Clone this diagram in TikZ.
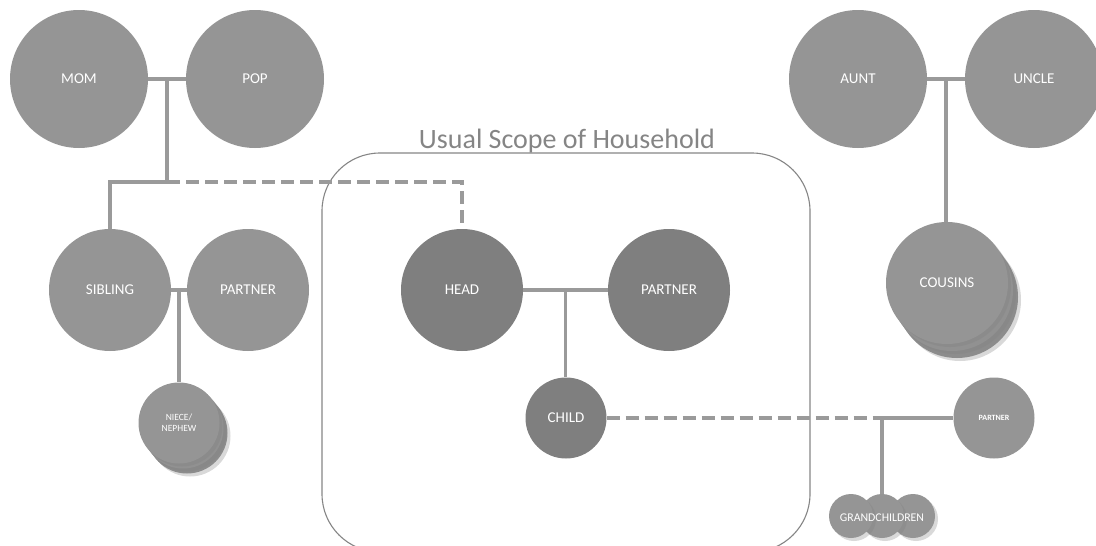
\documentclass[tikz,border=0pt]{standalone}
\usepackage{fontspec}
\setmainfont{Carlito}
\usetikzlibrary{calc,shadows}
\definecolor{relgray}{HTML}{959595}
\definecolor{homegray}{HTML}{7F7F7F}
\definecolor{linkgray}{HTML}{9A9A9A}
\definecolor{framegray}{HTML}{858585}
\begin{document}
\begin{tikzpicture}[x=1pt, y=-1pt,
    person/.style={circle, fill=relgray, text=white, inner sep=0pt,
      font=\fontsize{15}{17}\selectfont},
    large/.style={person, minimum size=138pt},
    medium/.style={person, minimum size=122pt},
    little/.style={person, minimum size=81pt},
    wee/.style={person, minimum size=44pt},
    household/.style={fill=homegray},
    stack/.style={drop shadow={shadow xshift=3pt, shadow yshift=-3pt, opacity=.3}},
    link/.style={draw=linkgray, line width=3.5pt},
    dashlink/.style={link, dash pattern=on 13pt off 6pt}]
  \useasboundingbox (0,0) rectangle (1096,546);
  % household frame
  \draw[framegray, line width=1.1pt, rounded corners=58pt] (322,153) rectangle (810,552);
  \node[text=framegray, anchor=base, font=\fontsize{28}{32}\selectfont] (scope) at (567,148) {Usual Scope of Household};
  % parents
  \node[large] (mom) at (79,79) {MOM};
  \node[large] (pop) at (255,79) {POP};
  % siblings
  \node[medium] (sibling) at (110,290) {SIBLING};
  \node[medium] (sibpartner) at (248,290) {PARTNER};
  \node[little, stack, fill=relgray!94!black] (niece3) at (187,433) {};
  \node[little, stack, fill=relgray!97!black] (niece2) at (183,428) {};
  \node[little, stack, font=\fontsize{9.5}{11}\selectfont, align=center] (niece) at (179,423) {NIECE/\\NEPHEW};
  % household
  \node[medium, household] (head) at (462,290) {HEAD};
  \node[medium, household] (headpartner) at (669,290) {PARTNER};
  \node[little, household] (child) at (566,418) {CHILD};
  \node[little, font=\bfseries\fontsize{8}{9}\selectfont] (childpartner) at (994,418) {PARTNER};
  \node[wee, stack] (gkright) at (913,516) {};
  \node[wee, stack] (grandkids) at (882,516) {};
  \node[wee, stack] (gkleft) at (851,516) {};
  \node[text=white, font=\fontsize{11.8}{13}\selectfont] (gklabel) at (882,518) {GRANDCHILDREN};
  % aunt and uncle
  \node[large] (aunt) at (858,79) {AUNT};
  \node[large] (uncle) at (1034,79) {UNCLE};
  \node[medium, stack, fill=relgray!94!black] (cousins3) at (957,297) {};
  \node[medium, stack, fill=relgray!97!black] (cousins2) at (952,290) {};
  \node[medium, stack] (cousins) at (947,283) {COUSINS};
  % joins
  \coordinate (momjoin) at ($(mom.east)!.5!(pop.west)$);
  \coordinate (sibjoin) at ($(sibling.east)!.5!(sibpartner.west)$);
  \coordinate (headjoin) at ($(head.east)!.5!(headpartner.west)$);
  \coordinate (auntjoin) at ($(aunt.east)!.5!(uncle.west)$);
  \coordinate (famrow) at (0,182);
  \coordinate (gkjoin) at (882,418);
  % connectors
  \draw[link] (mom) -- (pop);
  \draw[link] (momjoin) -- (momjoin |- famrow) -| (sibling.north);
  \draw[dashlink] (momjoin |- famrow) -| (head.north);
  \draw[link] (sibling) -- (sibpartner);
  \draw[link] (sibjoin) -- (sibjoin |- niece.north);
  \draw[link] (head) -- (headpartner);
  \draw[link] (headjoin) -- (headjoin |- child.north);
  \draw[dashlink] (child) -- (gkjoin);
  \draw[link] (gkjoin) -- (childpartner);
  \draw[link] (gkjoin) -- (grandkids.north);
  \draw[link] (aunt) -- (uncle);
  \draw[link] (auntjoin) -- (auntjoin |- cousins.north);
\end{tikzpicture}
\end{document}
